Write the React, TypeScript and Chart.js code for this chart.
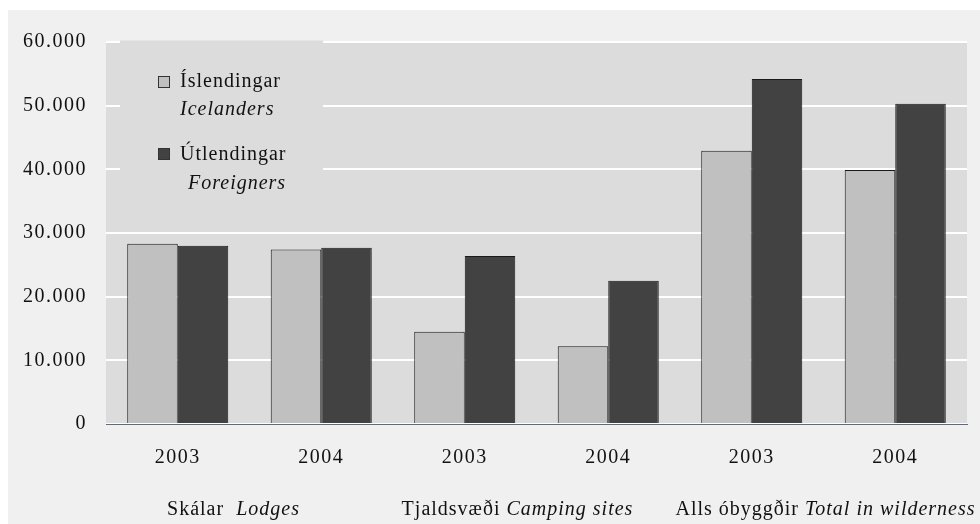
import React, { useEffect, useRef } from "react";
import { Chart, registerables } from "chart.js";

Chart.register(...registerables);

const yearLabels = ["2003", "2004", "2003", "2004", "2003", "2004"];
const groupNamesIs = ["Skálar ", "Tjaldsvæði", "Alls óbyggðir"];
const groupNamesEn = ["Lodges", "Camping sites", "Total in wilderness"];
const seriesNamesIs = ["Íslendingar", "Útlendingar"];
const seriesNamesEn = ["Icelanders", "Foreigners"];
const icelanders = [28300, 27400, 14500, 12200, 42900, 39900];
const foreigners = [28000, 27700, 26400, 22500, 54200, 50300];
const yTicks = [0, 10000, 20000, 30000, 40000, 50000, 60000];

const FONT = "'Liberation Serif', 'Times New Roman', serif";
const PLOT_BG = "#dcdcdc";
const OUTER_BG = "#f0f0f0";
const LIGHT = "#c0c0c0";
const DARK = "#424242";

const fmt = (v: number) => (v === 0 ? "0" : v.toLocaleString("de-DE"));

export default function App() {
  const ref = useRef<HTMLCanvasElement>(null);
  useEffect(() => {
    if (!ref.current) return;
    const bgPlugin = {
      id: "bgPlugin",
      beforeDraw(chart: any) {
        const { ctx, chartArea: a } = chart;
        ctx.letterSpacing = "1.5px";
        ctx.save();
        ctx.fillStyle = PLOT_BG;
        ctx.fillRect(a.left, a.top, a.right - a.left, a.bottom - a.top);
        ctx.restore();
      },
      beforeDatasetsDraw(chart: any) {
        const { ctx, chartArea: a } = chart;
        ctx.save();
        ctx.fillStyle = PLOT_BG;
        ctx.fillRect(a.left + 14, a.top - 1.5, 203, 182);
        ctx.restore();
      },
      afterDraw(chart: any) {
        const { ctx, chartArea: a } = chart;
        const x = chart.scales.x;
        ctx.save();
        ctx.letterSpacing = "1px";
        ctx.fillStyle = "#111";
        ctx.textBaseline = "alphabetic";
        // legend
        const fills = [LIGHT, DARK];
        const lx = a.left + 52;
        const rows = [
          { sq: a.top + 34, base: a.top + 45, sub: a.top + 73, subX: a.left + 74 },
          { sq: a.top + 106, base: a.top + 118, sub: a.top + 147, subX: a.left + 82 },
        ];
        rows.forEach((r, i) => {
          ctx.fillStyle = fills[i];
          ctx.fillRect(lx, r.sq, 12, 12);
          ctx.strokeStyle = "#333";
          ctx.lineWidth = 1;
          ctx.strokeRect(lx + 0.5, r.sq + 0.5, 11, 11);
          ctx.fillStyle = "#111";
          ctx.font = `20px ${FONT}`;
          ctx.textAlign = "left";
          ctx.fillText(seriesNamesIs[i], lx + 22, r.base);
          ctx.font = `italic 20px ${FONT}`;
          ctx.fillText(seriesNamesEn[i], r.subX, r.sub);
        });
        // group labels
        const offsets = [-16, -19, 2];
        groupNamesIs.forEach((g, i) => {
          const cx = (x.getPixelForValue(i * 2) + x.getPixelForValue(i * 2 + 1)) / 2 + offsets[i];
          ctx.font = `20px ${FONT}`;
          const part1 = g + " ";
          const w1 = ctx.measureText(part1).width;
          ctx.font = `italic 20px ${FONT}`;
          const w2 = ctx.measureText(groupNamesEn[i]).width;
          const start = cx - (w1 + w2) / 2;
          ctx.textAlign = "left";
          ctx.font = `20px ${FONT}`;
          ctx.fillText(part1, start, 505);
          ctx.font = `italic 20px ${FONT}`;
          ctx.fillText(groupNamesEn[i], start + w1, 505);
        });
        ctx.restore();
      },
    };

    const chart = new Chart(ref.current, {
      type: "bar",
      data: {
        labels: yearLabels,
        datasets: [
          {
            label: seriesNamesIs[0],
            data: icelanders,
            backgroundColor: LIGHT,
            borderColor: "#1a1a1a",
            borderWidth: 1,
          },
          {
            label: seriesNamesIs[1],
            data: foreigners,
            backgroundColor: DARK,
            borderColor: "#1a1a1a",
            borderWidth: 1,
          },
        ],
      },
      options: {
        animation: false,
        responsive: false,
        devicePixelRatio: 1,
        layout: { padding: { top: 32, right: 13, left: 0, bottom: 0 } },
        plugins: { legend: { display: false }, tooltip: { enabled: false } },
        datasets: { bar: { categoryPercentage: 0.704, barPercentage: 1.0 } },
        scales: {
          x: {
            grid: { display: false, drawTicks: false },
            border: { display: true, color: "#5a6a80", width: 1 },
            ticks: { color: "#111", font: { family: FONT, size: 20 }, padding: 22, maxRotation: 0 },
            afterFit(s: any) {
              s.height = 100;
            },
          },
          y: {
            min: 0,
            max: 60000,
            afterBuildTicks(s: any) {
              s.ticks = yTicks.map((v) => ({ value: v }));
            },
            grid: { color: "#ffffff", lineWidth: 2, drawTicks: false },
            border: { display: false },
            ticks: {
              color: "#111",
              font: { family: FONT, size: 20 },
              padding: 19,
              callback: (v: any) => fmt(Number(v)),
            },
            afterFit(s: any) {
              s.width = 98;
            },
          },
        },
      },
      plugins: [bgPlugin],
    } as any);
    return () => chart.destroy();
  }, []);

  return (
    <div style={{ position: "absolute", left: 8, top: 10, width: 972, height: 514, background: OUTER_BG }}>
      <canvas ref={ref} width={972} height={514} style={{ display: "block" }} />
    </div>
  );
}
